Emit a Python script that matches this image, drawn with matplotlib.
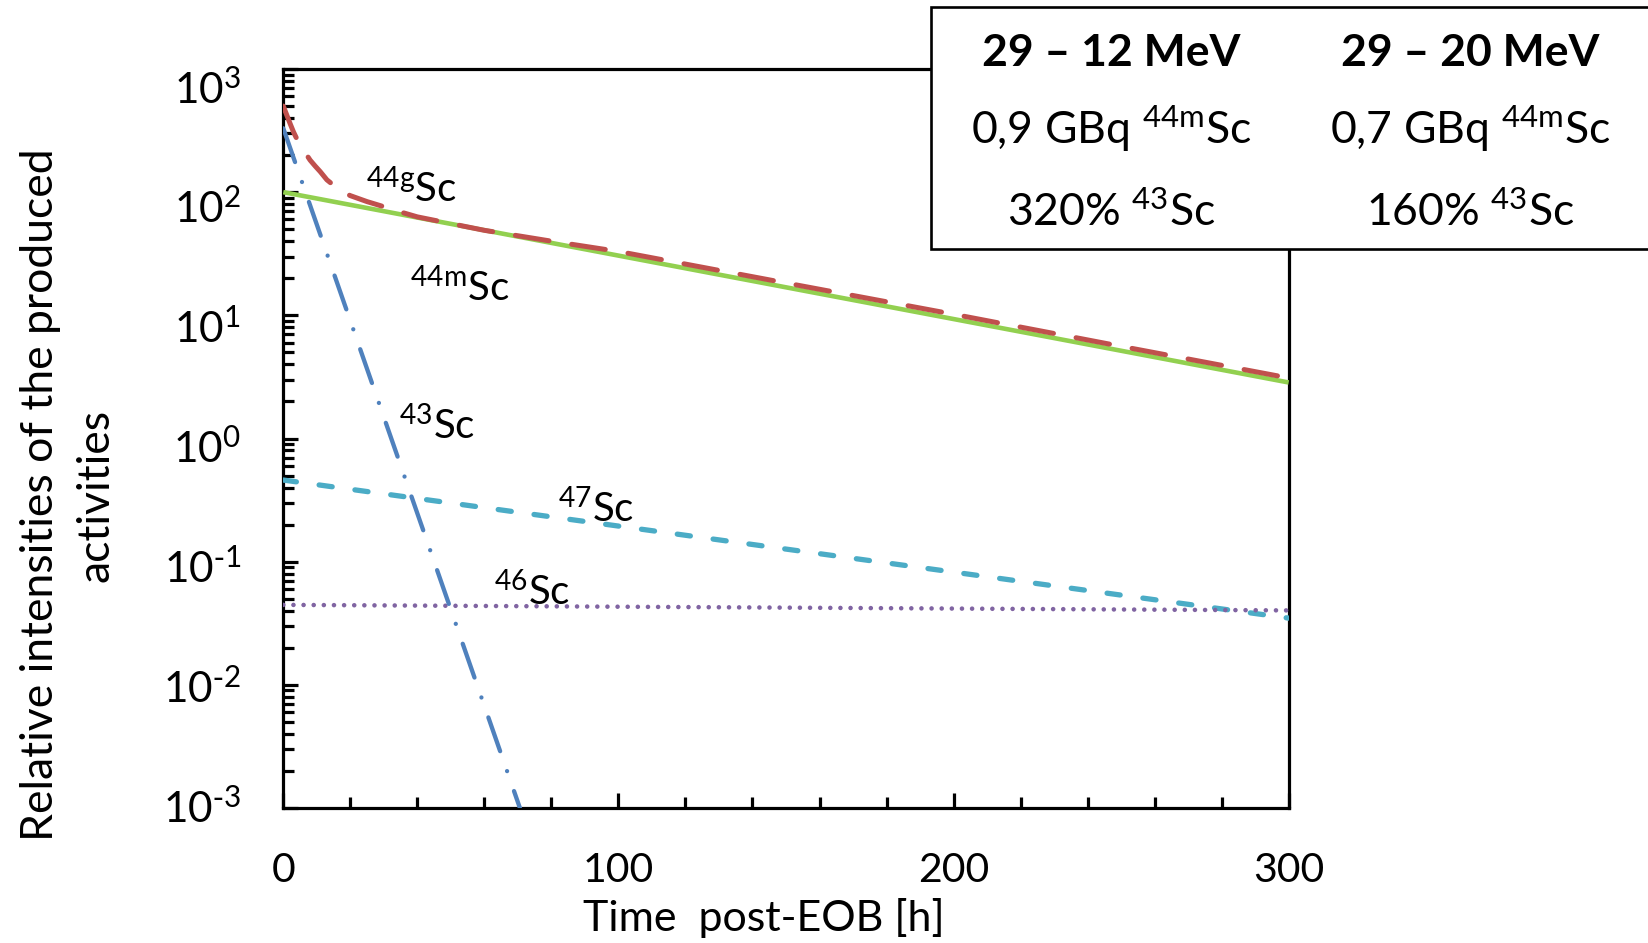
import numpy as np
import matplotlib
matplotlib.use("Agg")
import matplotlib.pyplot as plt
from matplotlib.ticker import FixedLocator, NullFormatter, LogLocator
from matplotlib.patches import Rectangle
import matplotlib.transforms as mtransforms

plt.rcParams['font.family'] = ['Lato', 'DejaVu Sans']
plt.rcParams['mathtext.default'] = 'regular'

# ---------------- data ----------------
t_44m = [0, 300]
a_44m = [100, 2.85]

t_44g = [0, 1, 2, 3, 4, 5, 6, 7, 8, 9.5, 11, 13, 15.5, 17.5, 20, 25, 30, 35, 40,
         60, 80, 100, 150, 200, 250, 300]
a_44g = [500, 425, 362, 310, 272, 250, 222, 200, 182, 163, 147, 126, 111, 101, 93.7,
         83.8, 76.2, 69, 63, 49, 40, 33, 18.3, 10.2, 5.6, 3.1]

t_43 = [0, 70.6]
a_43 = [330, 1e-3]

t_47 = [0, 300]
a_47 = [0.46, 0.0348]

t_46 = [0, 300]
a_46 = [0.0446, 0.0402]

x_major = [0, 100, 200, 300]
x_minor = [20, 40, 60, 80, 120, 140, 160, 180, 220, 240, 260, 280]
y_exponents = [-3, -2, -1, 0, 1, 2, 3]

curve_labels = [  # (superscript, x, y)
    ('44g', 24.7, 83),
    ('44m', 37.8, 12.9),
    ('43', 34.5, 0.99),
    ('47', 82.0, 0.21),
    ('46', 62.9, 0.0446),
]

box_cols = ['29 – 12 MeV', '29 – 20 MeV']
box_row2 = ['0,9 GBq $^{44m}$Sc', '0,7 GBq $^{44m}$Sc']
box_row3 = ['320% $^{43}$Sc', '160% $^{43}$Sc']

# ---------------- figure ----------------
W, H = 1648, 943
fig = plt.figure(figsize=(W / 100, H / 100), dpi=100)
L, R, T, B = 283.3, 1288.7, 69, 808
ax = fig.add_axes([L / W, 1 - B / H, (R - L) / W, (B - T) / H])

lw_spine = 2.3
for s in ax.spines.values():
    s.set_linewidth(lw_spine)
    s.set_color('black')

ax.plot(t_44m, a_44m, color='#92D050', lw=3.3, solid_capstyle='butt', zorder=3)
ax.plot(t_44g, a_44g, color='#C0504D', lw=3.6, dashes=(6.8, 4.6),
        dash_capstyle='round', zorder=4)
ax.plot(t_47, a_47, color='#4BACC6', lw=3.8, dashes=(2.5, 4.35),
        dash_capstyle='round', zorder=4)
ax.plot(t_46, a_46, color='#8064A2', lw=3.3, dashes=(0.01, 2.2),
        dash_capstyle='round', zorder=5)
ax.plot(t_43, a_43, color='#4F81BD', lw=3.1, dashes=(8.3, 4.9, 0.01, 4.9),
        dash_capstyle='round', zorder=6)

ax.set_yscale('log')
ax.set_xlim(0, 300)
ax.set_ylim(1e-3, 1e3)

ax.xaxis.set_major_locator(FixedLocator(x_major))
ax.xaxis.set_minor_locator(FixedLocator(x_minor))
ax.set_xticklabels([str(v) for v in x_major])
ax.yaxis.set_major_locator(FixedLocator([10.0 ** e for e in y_exponents]))
ax.yaxis.set_minor_locator(LogLocator(base=10, subs=np.arange(2, 10), numticks=100))
ax.yaxis.set_minor_formatter(NullFormatter())

ax.tick_params(axis='both', which='major', direction='in', length=10.5, width=2.3,
               top=False, right=False)
ax.tick_params(axis='both', which='minor', direction='in', length=8, width=2.3,
               top=False, right=False)
ax.tick_params(axis='x', which='major', labelsize=29.5, pad=32)
ax.tick_params(axis='y', which='major', labelleft=False)

# y tick labels (Excel-like placement, slightly compressed toward the bottom)
ytrans = mtransforms.blended_transform_factory(ax.transAxes, ax.transData)
for k in y_exponents:
    off_px = 14.5 + (k + 3) * 3.3
    tr = ytrans + mtransforms.ScaledTranslation(0, -off_px / 100, fig.dpi_scale_trans)
    exp_txt = r'\text{-}%d' % (-k) if k < 0 else '%d' % k
    ax.text(-(L - 241) / (R - L), 10.0 ** k, '10$^{%s}$' % exp_txt, transform=tr,
            ha='right', va='baseline', fontsize=30.5, clip_on=False)

ax.set_xlabel('Time  post-EOB [h]', fontsize=31)
ax.xaxis.label.set_va('center')
ax.xaxis.set_label_coords((764 - L) / (R - L), (B - 918) / (B - T))

ax.set_ylabel('Relative intensities of the produced\nactivities', fontsize=32,
              linespacing=1.45)
ax.yaxis.label.set_ha('center')
ax.yaxis.label.set_va('center')
ax.yaxis.set_label_coords((68 - L) / (R - L), (B - 495) / (B - T))

for sup, x, y in curve_labels:
    ax.text(x, y, '$^{%s}$Sc' % sup, fontsize=29, ha='left', va='baseline', zorder=8)

# info box
rect = Rectangle((931 / W, 1 - 249 / H), (W + 20 - 931) / W, (249 - 7) / H,
                 transform=fig.transFigure, facecolor='white', edgecolor='black',
                 lw=1.9, zorder=10, clip_on=False)
fig.add_artist(rect)
col_x = [1111, 1470]
for i, cx in enumerate(col_x):
    fig.text(cx / W, 1 - 66 / H, box_cols[i], fontsize=32, fontweight='bold',
             ha='center', va='baseline', zorder=11)
    fig.text(cx / W, 1 - 144 / H, box_row2[i], fontsize=32,
             ha='center', va='baseline', zorder=11)
    fig.text(cx / W, 1 - 226 / H, box_row3[i], fontsize=32,
             ha='center', va='baseline', zorder=11)

fig.savefig('out.png', dpi=100)
